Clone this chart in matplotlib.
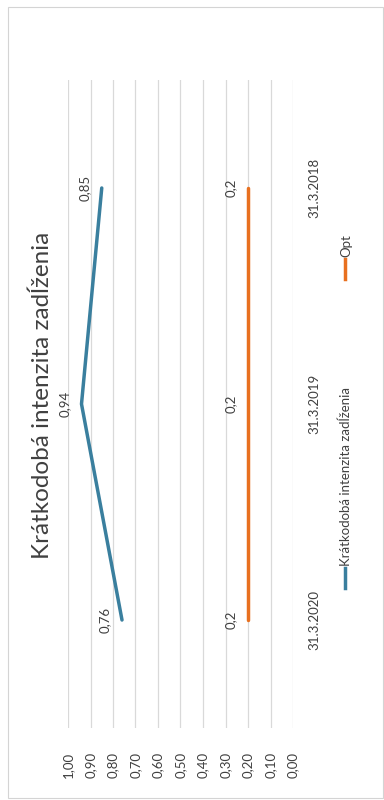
import matplotlib
matplotlib.use("Agg")
import matplotlib.pyplot as plt
from matplotlib.lines import Line2D
from matplotlib.patches import Rectangle
from matplotlib.ticker import FuncFormatter, MultipleLocator

plt.rcParams["font.family"] = ["Lato", "DejaVu Sans"]

TITLE = "Krátkodobá intenzita zadĺženia"
CATEGORIES = ["31.3.2020", "31.3.2019", "31.3.2018"]
INTENZITA = [0.76, 0.94, 0.85]
OPT = [0.2, 0.2, 0.2]
SERIES_NAMES = ["Krátkodobá intenzita zadĺženia", "Opt"]

BLUE = "#3a7f9e"
ORANGE = "#e8701f"
GRID = "#d9d9d9"
TEXT = "#404040"

fig = plt.figure(figsize=(3.84, 8.0), dpi=100)
fig.patches.append(Rectangle((8 / 384, 2 / 800), 375 / 384, 791 / 800,
                             transform=fig.transFigure, fill=False,
                             edgecolor="#d4d4d4", linewidth=0.8))

# chart is drawn rotated 90 degrees: value axis runs right-to-left
ax = fig.add_axes([68 / 384, 72 / 800, 225 / 384, 648 / 800])
ypos = list(range(len(CATEGORIES)))
ax.plot(INTENZITA, ypos, color=BLUE, linewidth=2.5, solid_capstyle="round")
ax.plot(OPT, ypos, color=ORANGE, linewidth=2.5, solid_capstyle="round")

ax.set_xlim(1.0, 0.0)
ax.set_ylim(-0.5, len(CATEGORIES) - 0.5)
ax.xaxis.set_major_locator(MultipleLocator(0.1))
ax.xaxis.set_major_formatter(FuncFormatter(lambda v, _: f"{v:.2f}".replace(".", ",")))
ax.grid(axis="x", color=GRID, linewidth=0.9)
ax.set_axisbelow(True)
for s in ax.spines.values():
    s.set_visible(False)

ax.tick_params(axis="x", length=0, pad=17, labelsize=9.5, labelcolor=TEXT)
for lab in ax.get_xticklabels():
    lab.set_rotation(90)

ax.yaxis.tick_right()
ax.set_yticks(ypos)
ax.set_yticklabels(CATEGORIES, rotation=90, va="center", ha="left",
                   fontsize=9.5, color=TEXT)
ax.tick_params(axis="y", length=0, pad=11)

for vals in (INTENZITA, OPT):
    for v, y in zip(vals, ypos):
        ax.annotate(f"{v:g}".replace(".", ","), (v, y), xytext=(-8, 0),
                    textcoords="offset points", rotation=90,
                    ha="right", va="center", fontsize=9.5, color=TEXT)

fig.text(42 / 384, 1 - 395 / 800, TITLE, rotation=90, ha="center", va="center",
         fontsize=17.5, color=TEXT)

# legend, rotated by hand
legend_items = [(SERIES_NAMES[0], BLUE, 588), (SERIES_NAMES[1], ORANGE, 279)]
for name, color, ystart in legend_items:
    fig.add_artist(Line2D([345 / 384, 345 / 384],
                          [1 - ystart / 800, 1 - (ystart - 20) / 800],
                          transform=fig.transFigure, color=color, linewidth=2.5))
    fig.text(346 / 384, 1 - (ystart - 22) / 800, name, rotation=90,
             ha="center", va="bottom", fontsize=9.5, color=TEXT)

fig.savefig("out.png", dpi=100)
